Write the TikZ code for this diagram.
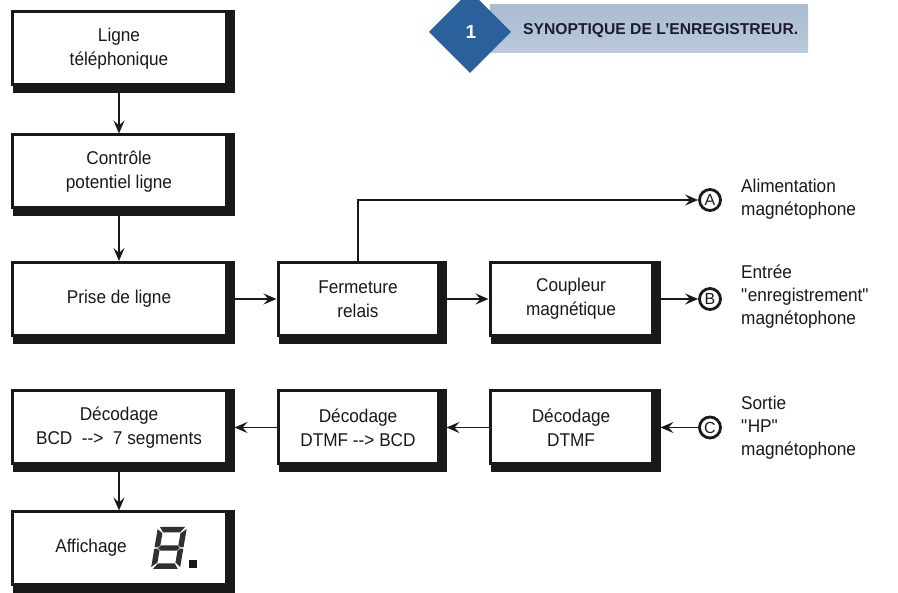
\documentclass[tikz,border=0pt]{standalone}
\usepackage{fontspec}
\setmainfont{Liberation Sans}
\newfontfamily\boxfont[FakeStretch=0.93]{Liberation Sans}
\usepackage{graphicx}
\usetikzlibrary{arrows.meta}
\definecolor{ink}{RGB}{25,25,25}
\definecolor{diablue}{RGB}{42,96,156}
\definecolor{barblue}{RGB}{170,188,210}
\definecolor{titleink}{RGB}{28,28,45}
\begin{document}
\begin{tikzpicture}[x=1pt,y=-1pt,
  box/.style={draw=ink, line width=3pt, align=center, font=\boxfont\fontsize{18.5}{24}\selectfont, text=ink, inner sep=0pt},
  wide/.style={minimum width=214pt, minimum height=73pt},
  mid/.style={minimum width=160pt, minimum height=73pt},
  colc/.style={minimum width=162pt, minimum height=73pt},
  conn/.style={draw=ink, line width=1.7pt, -{Stealth[length=13pt,width=11pt,inset=5pt]}},
  port/.style={circle, draw=ink, line width=2.8pt, minimum size=21pt, inner sep=0pt, font=\fontsize{16}{16}\selectfont, text=ink},
  lbl/.style={anchor=west, align=left, font=\boxfont\fontsize{18.5}{23}\selectfont, text=ink, inner sep=0pt}]
\useasboundingbox (0,0) rectangle (898,593);
\clip (0,0) rectangle (898,593);
\fill[white] (0,0) rectangle (898,593);

% title
\shade[top color=barblue, bottom color=barblue!80!white] (490,5) rectangle (808,53);
\fill[diablue] (429,32) -- (470,-9) -- (511,32) -- (470,73) -- cycle;
\node[text=white, font=\bfseries\fontsize{19}{19}\selectfont] (num) at (471,32) {1};
\node[anchor=west, inner sep=0pt, text=titleink, font=\bfseries\fontsize{14}{14}\selectfont] (title) at (523,31) {\resizebox{275pt}{11pt}{SYNOPTIQUE DE L'ENREGISTREUR.}};

% boxes
\node[box,wide] (ligne) at (119,48.5) {Ligne\\téléphonique};
\node[box,wide] (ctrl) at (119,171.5) {Contrôle\\potentiel ligne};
\node[box,wide] (prise) at (119,299) {Prise de ligne};
\node[box,mid] (ferm) at (358,299) {Fermeture\\relais};
\node[box,colc] (coupl) at (571,299) {Coupleur\\magnétique};
\node[box,wide] (bcd7) at (119,427.5) {Décodage\\BCD~~-{}-{}>~~7 segments};
\node[box,mid] (dtmfbcd) at (358,427.5) {Décodage\\DTMF -{}-{}> BCD};
\node[box,colc] (dtmf) at (571,427.5) {Décodage\\DTMF};
\node[box,wide] (aff) at (119,548.5) {};
\node[font=\boxfont\fontsize{18.5}{24}\selectfont, text=ink, inner sep=0pt] (afftxt) at (91,548) {Affichage};

\foreach \n in {ligne,ctrl,prise,ferm,coupl,bcd7,dtmfbcd,dtmf,aff}{
  \fill[ink] ([xshift=-1.5pt]\n.north east) rectangle ([xshift=7pt,yshift=-7pt]\n.south east);
  \fill[ink] ([xshift=2pt,yshift=1.5pt]\n.south west) rectangle ([xshift=7pt,yshift=-7pt]\n.south east);
}

% seven-segment digit
\begin{scope}[shift={(158,527)}, xslant=0.17, fill=ink!90]
  \fill (2,0)--(27,0)--(23,5.5)--(6,5.5)--cycle;
  \fill (29,2)--(29,20)--(26.5,20.5)--(23.5,18.5)--(23.5,6.5)--cycle;
  \fill (29,22)--(29,40)--(23.5,35.5)--(23.5,23.5)--(26.5,21.5)--cycle;
  \fill (0,2)--(5.5,6.5)--(5.5,18.5)--(2.5,20.5)--(0,20)--cycle;
  \fill (0,22)--(2.5,21.5)--(5.5,23.5)--(5.5,35.5)--(0,40)--cycle;
  \fill (6,36.5)--(23,36.5)--(27,42)--(2,42)--cycle;
  \fill (3.5,21)--(6.5,18.3)--(22.5,18.3)--(25.5,21)--(22.5,23.7)--(6.5,23.7)--cycle;
\end{scope}
\fill[ink] (189,560) rectangle (197,568);

% ports
\node[port] (pA) at (710,200) {A};
\node[port] (pB) at (710,299) {B};
\node[port] (pC) at (710,427.5) {C};
\node[lbl] (lA) at (741,199) {Alimentation\\magnétophone};
\node[lbl] (lB) at (741,297) {Entrée\\\textquotedbl enregistrement\textquotedbl\\magnétophone};
\node[lbl] (lC) at (741,428) {Sortie\\\textquotedbl HP\textquotedbl\\magnétophone};

% connectors
\draw[conn] ([yshift=-7pt]ligne.south) -- (ctrl.north);
\draw[conn] ([yshift=-7pt]ctrl.south) -- (prise.north);
\draw[conn] ([yshift=-7pt]bcd7.south) -- (aff.north);
\draw[conn] ([xshift=7pt]prise.east) -- (ferm.west);
\draw[conn] ([xshift=7pt]ferm.east) -- (coupl.west);
\draw[conn] ([xshift=7pt]coupl.east) -- (pB.west);
\draw[conn] (ferm.north) |- (pA.west);
\draw[conn] (pC.west) -- ([xshift=7pt]dtmf.east);
\draw[conn] (dtmf.west) -- ([xshift=7pt]dtmfbcd.east);
\draw[conn] (dtmfbcd.west) -- ([xshift=7pt]bcd7.east);
\end{tikzpicture}
\end{document}
